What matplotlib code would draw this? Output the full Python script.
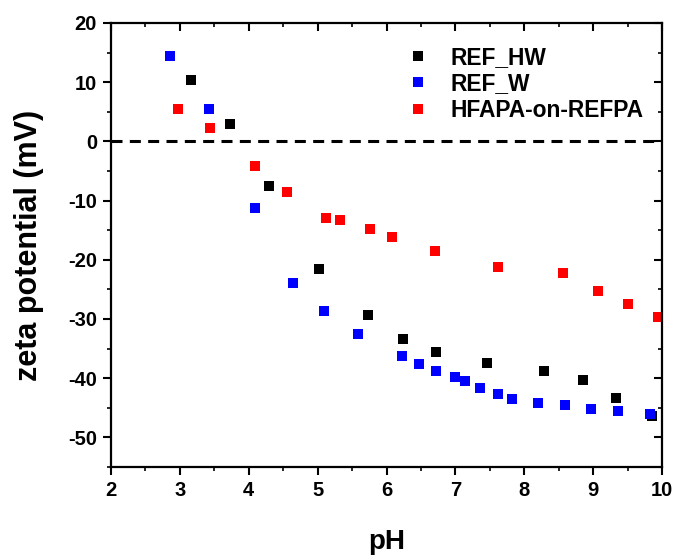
import matplotlib
matplotlib.use("Agg")
import matplotlib.pyplot as plt
from matplotlib.ticker import MultipleLocator

plt.rcParams['font.family'] = ['Liberation Sans', 'DejaVu Sans']
plt.rcParams['font.weight'] = 'bold'
plt.rcParams['axes.unicode_minus'] = False

# REF_HW
ph_hw = [3.16, 3.73, 4.29, 5.02, 5.73, 6.24, 6.72, 7.46, 8.28, 8.85, 9.33, 9.85]
zeta_hw = [10.4, 2.9, -7.6, -21.5, -29.4, -33.3, -35.5, -37.5, -38.8, -40.3, -43.3, -46.4]

# REF_W
ph_w = [2.86, 3.42, 4.09, 4.64, 5.09, 5.58, 6.22, 6.47, 6.72, 6.99, 7.14, 7.36,
        7.62, 7.82, 8.20, 8.59, 8.97, 9.36, 9.82]
zeta_w = [14.5, 5.4, -11.2, -23.9, -28.6, -32.6, -36.3, -37.6, -38.8, -39.8, -40.5, -41.7,
          -42.7, -43.5, -44.2, -44.5, -45.2, -45.5, -46.0]

# HFAPA-on-REFPA
ph_hf = [2.97, 3.44, 4.09, 4.55, 5.12, 5.32, 5.76, 6.08, 6.70, 7.62, 8.56, 9.07, 9.50, 9.94]
zeta_hf = [5.4, 2.2, -4.2, -8.6, -12.9, -13.3, -14.8, -16.1, -18.5, -21.2, -22.2, -25.2, -27.4, -29.6]

x_ticks = [2, 3, 4, 5, 6, 7, 8, 9, 10]
y_ticks = [-50, -40, -30, -20, -10, 0, 10, 20]

labels = ['REF_HW', 'REF_W', 'HFAPA-on-REFPA']
colors = ['#000000', '#0000FF', '#FF0000']

fig = plt.figure(figsize=(6.79, 5.56), dpi=100)
ax = fig.add_axes([111/679, 1-467/556, (662-111)/679, (467-23)/556])

ms = 7.2
for (x, y), lab, c in zip([(ph_hw, zeta_hw), (ph_w, zeta_w), (ph_hf, zeta_hf)], labels, colors):
    ax.plot(x, y, linestyle='none', marker='s', ms=ms, color=c, mec=c, mew=0, label=lab)

ax.axhline(0, color='black', lw=2.2, linestyle=(0, (3.6, 2.4)))

ax.set_xlim(2, 10)
ax.set_ylim(-55, 20)
ax.set_xticks(x_ticks, [str(v) for v in x_ticks], fontweight='bold', fontsize=14.5)
ax.set_yticks(y_ticks, [str(v) for v in y_ticks], fontweight='bold', fontsize=14.5)
ax.xaxis.set_minor_locator(MultipleLocator(0.5))
ax.yaxis.set_minor_locator(MultipleLocator(5))

for s in ax.spines.values():
    s.set_linewidth(1.6)

ax.tick_params(which='major', direction='out', length=6, width=1.5, pad=4)
ax.tick_params(which='minor', direction='out', length=3, width=1.2)
ax.tick_params(which='both', top=True, right=True)
# top/right ticks inward
for t in ax.xaxis.get_major_ticks() + ax.xaxis.get_minor_ticks():
    t.tick2line.set_marker(3)  # TICKDOWN
for t in ax.yaxis.get_major_ticks() + ax.yaxis.get_minor_ticks():
    t.tick2line.set_marker(0)  # TICKLEFT

ax.set_xlabel('pH', fontsize=20, fontweight='bold', labelpad=21)
ax.set_ylabel('zeta potential (mV)', fontsize=22, fontweight='bold', labelpad=17)

leg = ax.legend(loc='upper left', bbox_to_anchor=(0.50, 0.995), frameon=False,
                fontsize=16.4, handlelength=1.0, handletextpad=0.9, labelspacing=0.15,
                markerscale=1.0)
for t in leg.get_texts():
    t.set_fontweight('bold')

fig.savefig('out.png', dpi=100)
